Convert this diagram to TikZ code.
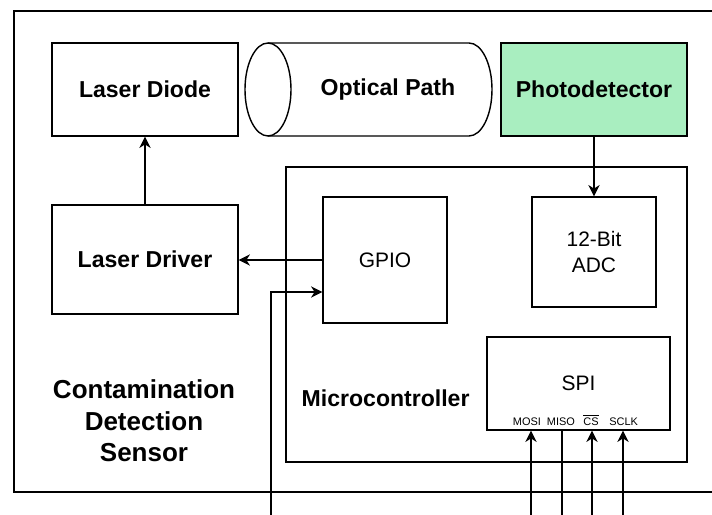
\documentclass[tikz,border=0pt]{standalone}
\usepackage{fontspec}
\setmainfont{Liberation Sans}
\setsansfont{Liberation Sans}
\usepackage{tikz}
\usetikzlibrary{
  arrows.meta,
  positioning,
  calc,
  shapes.geometric,
}
\definecolor{ink}{HTML}{000000}
\definecolor{mint}{HTML}{A9EEC0}
\tikzset{
  >={Stealth[length=8pt,width=8pt,inset=2.5pt]},
  wire/.style={draw=ink, line width=1pt},
  block/.style={draw=ink, line width=1pt, inner sep=0pt},
  heading/.style={font=\fontsize{16.4}{19.7}\selectfont\bfseries},
  bigheading/.style={font=\fontsize{18.5}{22.4}\selectfont\bfseries, align=center},
  plain/.style={font=\fontsize{14.9}{17.9}\selectfont, align=center},
  pinlabel/.style={font=\fontsize{7.8}{9}\selectfont, inner sep=1pt, anchor=south},
}

\begin{document}
\begin{tikzpicture}[x=1cm,y=1cm]
  \useasboundingbox (0,0) rectangle (17.8,12.875);
  \fill[white] (0,0) rectangle (17.8,12.875);

  % sensor frame, open to the right
  \draw[wire] (17.8,12.6) -- (0.35,12.6) -- (0.35,0.575) -- (17.8,0.575);
  \node[bigheading] (sensor) at (3.6,2.35) {Contamination\\Detection\\Sensor};

  % optics row
  \node[block, heading, minimum width=4.65cm, minimum height=2.325cm] (diode) at (3.625,10.6375) {Laser Diode};
  \node[block, heading, fill=mint, minimum width=4.65cm, minimum height=2.325cm] (detector) at (14.85,10.6375) {Photodetector};

  % optical path cylinder
  \draw[wire] (6.7,11.8) -- (11.725,11.8) arc (90:-90:0.575 and 1.1625) -- (6.7,9.475);
  \draw[wire] (6.7,10.6375) ellipse (0.575 and 1.1625);
  \node[heading] (optpath) at (9.7,10.6375) {Optical Path};

  \node[block, heading, minimum width=4.65cm, minimum height=2.725cm] (driver) at (3.625,6.3875) {Laser Driver};

  % microcontroller
  \node[block, minimum width=10.025cm, minimum height=7.375cm] (mcu) at (12.1625,5.0125) {};
  \node[heading] (mculabel) at (9.64,2.925) {Microcontroller};
  \node[block, plain, minimum width=3.1cm, minimum height=3.15cm] (gpio) at (9.625,6.375) {GPIO};
  \node[block, plain, minimum width=3.1cm, minimum height=2.75cm] (adc) at (14.85,6.575) {12-Bit\\ADC};
  \node[block, plain, minimum width=4.575cm, minimum height=2.325cm] (spi) at (14.4625,3.2875) {SPI};

  \draw[wire, ->] (driver) -- (diode);
  \draw[wire, ->] (detector) -- (adc);
  \draw[wire, ->] (gpio.west) -- (gpio.west -| driver.east);

  \coordinate (gpioext) at (6.775,0);
  \draw[wire, ->] (gpioext) |- ([yshift=-0.8cm]gpio.west);

  % spi pins
  \foreach \x/\lx/\lab/\tip [count=\i] in {13.275/13.175/MOSI/->, 14.05/14.025/MISO/-, 14.8/14.775/{$\overline{\mbox{CS}}$}/->, 15.575/15.59/SCLK/->} {
    \coordinate (pin\i) at (\x,0);
    \draw[wire, \tip] (pin\i) -- (pin\i |- spi.south);
    \node[pinlabel] (pinlab\i) at ([yshift=2.5pt]\lx,0 |- spi.south) {\lab};
  }
\end{tikzpicture}
\end{document}
